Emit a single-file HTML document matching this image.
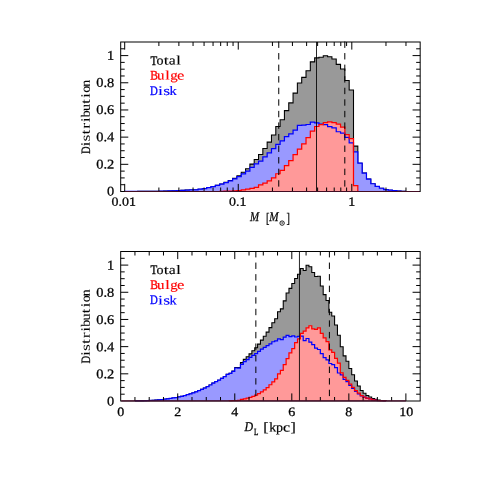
<!DOCTYPE html>
<html>
<head>
<meta charset="utf-8">
<title>Distribution</title>
<style>
html,body{margin:0;padding:0;background:#fff;}
body{width:491px;height:491px;overflow:hidden;}
svg{display:block;}
text{font-family:"Liberation Serif",serif;stroke-width:0.28px;}
</style>
</head>
<body>
<svg width="491" height="491" viewBox="0 0 491 491">
<defs>
<clipPath id="ct"><rect x="120.69" y="42" width="299.48" height="150.1"/></clipPath>
<clipPath id="cb"><rect x="120.69" y="251.5" width="299.48" height="150.1"/></clipPath>
</defs>
<rect width="491" height="491" fill="#fff"/>
<g clip-path="url(#ct)">
<path d="M120.69 191.5V191.5H124.7V191.45H129.02V191.43H133.33V191.42H137.65V191.39H141.97V191.36H146.28V191.34H150.6V191.31H154.92V191.27H159.23V191.23H163.55V191.09H167.87V190.96H172.19V190.82H176.5V190.62H180.82V190.41H185.14V190.14H189.45V189.94H193.77V189.8H198.09V189.19H202.41V188.51H206.72V187.56H211.04V186.61H215.36V185.38H219.67V184.03H223.99V182.26H228.31V180.55H232.62V178.39H236.94V175.74H241.26V172.26H245.57V168.79H249.89V164.1H254.21V159.56H258.53V154.54H262.84V148.49H267.16V142.11H271.48V135.03H275.79V126.58H280.11V119.74H284.43V110.64H288.75V102.89H293.06V93.11H297.38V82.92H301.7V77.34H306.01V70.68H310.33V61.85H314.65V57.91H318.96V57.23H323.28V55.78H327.6V56.82H331.92V59.04H336.23V64.34H340.55V68.92H344.87V80.51H349.18V89.98H353.5V146.11H357.82V163.23H362.13V173.15H366.45V179.13H370.77V183.75H375.08V186.47H379.4V188.24H383.72V189.54H388.04V190.2H392.35V190.68H396.67V191.09H400.99V191.3H405.3V191.5H409.62V191.5H413.94V191.5H418.25V191.5Z" fill="#999999"/>
<path d="M124.7 191.5V191.45H129.02V191.43H133.33V191.42H137.65V191.39H141.97V191.36H146.28V191.34H150.6V191.31H154.92V191.27H159.23V191.23H163.55V191.09H167.87V190.96H172.19V190.82H176.5V190.62H180.82V190.41H185.14V190.14H189.45V189.94H193.77V189.8H198.09V189.19H202.41V188.51H206.72V187.56H211.04V186.61H215.36V185.38H219.67V184.03H223.99V182.26H228.31V180.55H232.62V178.39H236.94V175.74H241.26V172.26H245.57V168.79H249.89V164.1H254.21V159.56H258.53V154.54H262.84V148.49H267.16V142.11H271.48V135.03H275.79V126.58H280.11V119.74H284.43V110.64H288.75V102.89H293.06V93.11H297.38V82.92H301.7V77.34H306.01V70.68H310.33V61.85H314.65V57.91H318.96V57.23H323.28V55.78H327.6V56.82H331.92V59.04H336.23V64.34H340.55V68.92H344.87V80.51H349.18V89.98H353.5V146.11H357.82V163.23H362.13V173.15H366.45V179.13H370.77V183.75H375.08V186.47H379.4V188.24H383.72V189.54H388.04V190.2H392.35V190.68H396.67V191.09H400.99V191.3H405.3V191.5" fill="none" stroke="#000" stroke-width="1.08"/>
<path d="M120.69 191.5V191.5H124.7V191.45H129.02V191.43H133.33V191.42H137.65V191.39H141.97V191.36H146.28V191.34H150.6V191.31H154.92V191.27H159.23V191.23H163.55V191.09H167.87V190.96H172.19V190.82H176.5V190.62H180.82V190.41H185.14V190.14H189.45V189.94H193.77V189.8H198.09V189.19H202.41V188.51H206.72V187.56H211.04V186.61H215.36V185.38H219.67V184.16H223.99V182.53H228.31V180.95H232.62V178.93H236.94V176.69H241.26V173.83H245.57V171.18H249.89V167.31H254.21V163.78H258.53V161.19H262.84V156.98H267.16V152.85H271.48V148.62H275.79V144.34H280.11V140.81H284.43V136.6H288.75V133.88H293.06V130.07H297.38V125.32H301.7V125.04H306.01V124.5H310.33V122.19H314.65V122.92H318.96V124.09H323.28V124.64H327.6V126.54H331.92V127.9H336.23V131.74H340.55V133.2H344.87V137.41H349.18V142.85H353.5V151.95H357.82V163.23H362.13V173.15H366.45V179.13H370.77V183.75H375.08V186.47H379.4V188.24H383.72V189.54H388.04V190.2H392.35V190.68H396.67V191.09H400.99V191.3H405.3V191.5H409.62V191.5H413.94V191.5H418.25V191.5Z" fill="#9999ff"/>
<path d="M120.69 191.5V191.5H124.7V191.5H129.02V191.5H133.33V191.5H137.65V191.5H141.97V191.5H146.28V191.5H150.6V191.5H154.92V191.5H159.23V191.5H163.55V191.5H167.87V191.5H172.19V191.5H176.5V191.5H180.82V191.5H185.14V191.5H189.45V191.5H193.77V191.5H198.09V191.5H202.41V191.5H206.72V191.5H211.04V191.5H215.36V191.5H219.67V191.36H223.99V191.23H228.31V191.09H232.62V190.96H236.94V190.55H241.26V189.92H245.57V189.11H249.89V188.29H254.21V187.29H258.53V184.84H262.84V183.01H267.16V180.76H271.48V177.91H275.79V173.74H280.11V170.44H284.43V165.54H288.75V160.51H293.06V154.54H297.38V149.1H301.7V143.8H306.01V137.68H310.33V131.16H314.65V126.49H318.96V124.64H323.28V122.64H327.6V121.78H331.92V122.64H336.23V124.09H340.55V127.22H344.87V134.6H349.18V138.63H353.5V185.66H357.82V191.5H362.13V191.5H366.45V191.5H370.77V191.5H375.08V191.5H379.4V191.5H383.72V191.5H388.04V191.5H392.35V191.5H396.67V191.5H400.99V191.5H405.3V191.5H409.62V191.5H413.94V191.5H418.25V191.5Z" fill="#ff9999"/>
<path d="M124.7 191.5V191.45H129.02V191.43H133.33V191.42H137.65V191.39H141.97V191.36H146.28V191.34H150.6V191.31H154.92V191.27H159.23V191.23H163.55V191.09H167.87V190.96H172.19V190.82H176.5V190.62H180.82V190.41H185.14V190.14H189.45V189.94H193.77V189.8H198.09V189.19H202.41V188.51H206.72V187.56H211.04V186.61H215.36V185.38H219.67V184.16H223.99V182.53H228.31V180.95H232.62V178.93H236.94V176.69H241.26V173.83H245.57V171.18H249.89V167.31H254.21V163.78H258.53V161.19H262.84V156.98H267.16V152.85H271.48V148.62H275.79V144.34H280.11V140.81H284.43V136.6H288.75V133.88H293.06V130.07H297.38V125.32H301.7V125.04H306.01V124.5H310.33V122.19H314.65V122.92H318.96V124.09H323.28V124.64H327.6V126.54H331.92V127.9H336.23V131.74H340.55V133.2H344.87V137.41H349.18V142.85H353.5V151.95H357.82V163.23H362.13V173.15H366.45V179.13H370.77V183.75H375.08V186.47H379.4V188.24H383.72V189.54H388.04V190.2H392.35V190.68H396.67V191.09H400.99V191.3H405.3V191.5" fill="none" stroke="#0000ff" stroke-width="1.23"/>
<path d="M219.67 191.5V191.36H223.99V191.23H228.31V191.09H232.62V190.96H236.94V190.55H241.26V189.92H245.57V189.11H249.89V188.29H254.21V187.29H258.53V184.84H262.84V183.01H267.16V180.76H271.48V177.91H275.79V173.74H280.11V170.44H284.43V165.54H288.75V160.51H293.06V154.54H297.38V149.1H301.7V143.8H306.01V137.68H310.33V131.16H314.65V126.49H318.96V124.64H323.28V122.64H327.6V121.78H331.92V122.64H336.23V124.09H340.55V127.22H344.87V134.6H349.18V138.63H353.5V185.66H357.82V191.5" fill="none" stroke="#ff0000" stroke-width="1.23"/>
</g>
<path d="M278.75 41.5V47.9M278.75 53.06V59.46M278.75 64.62V71.02M278.75 76.18V82.58M278.75 87.74V94.14M278.75 99.3V105.7M278.75 110.86V117.26M278.75 122.42V128.82M278.75 133.98V140.38M278.75 145.54V151.94M278.75 157.1V163.5M278.75 168.66V175.06M278.75 180.22V186.62" stroke="#000" stroke-width="1" fill="none"/>
<path d="M344.8 41.5V47.9M344.8 53.06V59.46M344.8 64.62V71.02M344.8 76.18V82.58M344.8 87.74V94.14M344.8 99.3V105.7M344.8 110.86V117.26M344.8 122.42V128.82M344.8 133.98V140.38M344.8 145.54V151.94M344.8 157.1V163.5M344.8 168.66V175.06M344.8 180.22V186.62" stroke="#000" stroke-width="1" fill="none"/>
<path d="M316.5 42V191.5" stroke="#000" stroke-width="0.85" fill="none"/>
<path d="M120.69 184.71h4M420.17 184.71h-4M120.69 177.91h4M420.17 177.91h-4M120.69 171.12h4M420.17 171.12h-4M120.69 164.32h7.6M420.17 164.32h-7.6M120.69 157.53h4M420.17 157.53h-4M120.69 150.73h4M420.17 150.73h-4M120.69 143.94h4M420.17 143.94h-4M120.69 137.14h7.6M420.17 137.14h-7.6M120.69 130.34h4M420.17 130.34h-4M120.69 123.55h4M420.17 123.55h-4M120.69 116.75h4M420.17 116.75h-4M120.69 109.96h7.6M420.17 109.96h-7.6M120.69 103.16h4M420.17 103.16h-4M120.69 96.37h4M420.17 96.37h-4M120.69 89.57h4M420.17 89.57h-4M120.69 82.78h7.6M420.17 82.78h-7.6M120.69 75.98h4M420.17 75.98h-4M120.69 69.19h4M420.17 69.19h-4M120.69 62.39h4M420.17 62.39h-4M120.69 55.6h7.6M420.17 55.6h-7.6M120.69 48.8h4M420.17 48.8h-4M124.7 191.5v-7.6M124.7 42v7.6M238.25 191.5v-7.6M238.25 42v7.6M351.8 191.5v-7.6M351.8 42v7.6M158.88 191.5v-4M158.88 42v4M178.88 191.5v-4M178.88 42v4M193.06 191.5v-4M193.06 42v4M204.07 191.5v-4M204.07 42v4M213.06 191.5v-4M213.06 42v4M220.66 191.5v-4M220.66 42v4M227.25 191.5v-4M227.25 42v4M233.05 191.5v-4M233.05 42v4M272.43 191.5v-4M272.43 42v4M292.43 191.5v-4M292.43 42v4M306.61 191.5v-4M306.61 42v4M317.62 191.5v-4M317.62 42v4M326.61 191.5v-4M326.61 42v4M334.21 191.5v-4M334.21 42v4M340.8 191.5v-4M340.8 42v4M346.6 191.5v-4M346.6 42v4M385.98 191.5v-4M385.98 42v4M405.98 191.5v-4M405.98 42v4" stroke="#000" stroke-width="1.0" fill="none"/>
<rect x="120.69" y="42" width="299.48" height="149.5" fill="none" stroke="#000" stroke-width="1.0"/>
<path d="M124.7 191.5H419.67" stroke="#420c22" stroke-width="1"/>
<g clip-path="url(#cb)">
<path d="M120.69 401V401H123.54V401H126.39V401H129.25V401H132.1V401H134.95V400.98H137.8V400.93H140.65V400.89H143.51V400.8H146.36V400.66H149.21V400.48H152.06V400.27H154.91V400.05H157.77V399.78H160.62V399.51H163.47V399.18H166.32V398.8H169.17V398.42H172.03V397.98H174.88V397.55H177.73V396.98H180.58V396.27H183.43V395.56H186.29V394.69H189.14V393.82H191.99V392.87H194.84V391.84H197.69V390.67H200.55V389.35H203.4V388.04H206.25V386.57H209.1V384.99H211.95V383.16H214.81V381.7H217.66V380.21H220.51V378.26H223.36V376.54H226.21V374.36H229.07V373.28H231.92V371.03H234.77V367.6H237.62V367.57H240.47V362.61H243.33V359.41H246.18V356.72H249.03V353.84H251.88V350.78H254.73V347.77H257.59V344.1H260.44V340.12H263.29V336.31H266.14V332.15H268.99V327.64H271.85V322.72H274.7V318.74H277.55V311.71H280.4V308.86H283.25V300.84H286.11V293.03H288.96V288.34H291.81V283.45H294.66V278.55H297.51V274.21H300.37V268.5H303.22V270.54H306.07V265.28H308.92V266.77H311.77V272.44H314.63V276.45H317.48V276.28H320.33V285.96H323.18V294.62H326.03V300.47H328.89V312.28H331.74V315.99H334.59V324.98H337.44V335.22H340.29V346.68H343.15V355.88H346V361.18H348.85V368.52H351.7V374.77H354.55V381.08H357.41V385.97H360.26V390.54H363.11V393.31H365.96V395.43H368.81V396.92H371.67V398.55H374.52V399.41H377.37V400.05H380.22V400.51H383.07V400.76H385.93V401H388.78V401H391.63V401H394.48V401H397.33V401H400.19V401H403.04V401H405.89V401Z" fill="#999999"/>
<path d="M134.95 401V400.98H137.8V400.93H140.65V400.89H143.51V400.8H146.36V400.66H149.21V400.48H152.06V400.27H154.91V400.05H157.77V399.78H160.62V399.51H163.47V399.18H166.32V398.8H169.17V398.42H172.03V397.98H174.88V397.55H177.73V396.98H180.58V396.27H183.43V395.56H186.29V394.69H189.14V393.82H191.99V392.87H194.84V391.84H197.69V390.67H200.55V389.35H203.4V388.04H206.25V386.57H209.1V384.99H211.95V383.16H214.81V381.7H217.66V380.21H220.51V378.26H223.36V376.54H226.21V374.36H229.07V373.28H231.92V371.03H234.77V367.6H237.62V367.57H240.47V362.61H243.33V359.41H246.18V356.72H249.03V353.84H251.88V350.78H254.73V347.77H257.59V344.1H260.44V340.12H263.29V336.31H266.14V332.15H268.99V327.64H271.85V322.72H274.7V318.74H277.55V311.71H280.4V308.86H283.25V300.84H286.11V293.03H288.96V288.34H291.81V283.45H294.66V278.55H297.51V274.21H300.37V268.5H303.22V270.54H306.07V265.28H308.92V266.77H311.77V272.44H314.63V276.45H317.48V276.28H320.33V285.96H323.18V294.62H326.03V300.47H328.89V312.28H331.74V315.99H334.59V324.98H337.44V335.22H340.29V346.68H343.15V355.88H346V361.18H348.85V368.52H351.7V374.77H354.55V381.08H357.41V385.97H360.26V390.54H363.11V393.31H365.96V395.43H368.81V396.92H371.67V398.55H374.52V399.41H377.37V400.05H380.22V400.51H383.07V400.76H385.93V401" fill="none" stroke="#000" stroke-width="1.08"/>
<path d="M120.69 401V401H123.54V401H126.39V401H129.25V401H132.1V401H134.95V400.98H137.8V400.93H140.65V400.89H143.51V400.8H146.36V400.66H149.21V400.48H152.06V400.27H154.91V400.05H157.77V399.78H160.62V399.51H163.47V399.18H166.32V398.8H169.17V398.42H172.03V397.98H174.88V397.55H177.73V396.98H180.58V396.27H183.43V395.56H186.29V394.69H189.14V393.82H191.99V392.87H194.84V391.84H197.69V390.67H200.55V389.35H203.4V388.04H206.25V386.57H209.1V384.99H211.95V383.16H214.81V381.7H217.66V380.21H220.51V378.26H223.36V376.54H226.21V374.36H229.07V373.41H231.92V371.31H234.77V368H237.62V368.18H240.47V364.31H243.33V361.63H246.18V359.55H249.03V357.38H251.88V355.34H254.73V353.61H257.59V351.4H260.44V349.22H263.29V347.46H266.14V345.55H268.99V343.89H271.85V341.75H274.7V340.76H277.55V338.89H280.4V339.57H283.25V337.13H286.11V335.43H288.96V336.58H291.81V335.77H294.66V336.99H297.51V336.31H300.37V336.18H303.22V340.52H306.07V338.49H308.92V342.02H311.77V344.6H314.63V348.13H317.48V349.49H320.33V353.57H323.18V357.68H326.03V359.96H328.89V363.49H331.74V364.58H334.59V367.65H337.44V373H340.29V374.77H343.15V379.46H346V381.7H348.85V385.37H351.7V388.5H354.55V391.49H357.41V393.93H360.26V395.97H363.11V397.19H365.96V398.28H368.81V398.96H371.67V399.78H374.52V400.18H377.37V400.52H380.22V400.73H383.07V400.86H385.93V401H388.78V401H391.63V401H394.48V401H397.33V401H400.19V401H403.04V401H405.89V401Z" fill="#9999ff"/>
<path d="M120.69 401V401H123.54V401H126.39V401H129.25V401H132.1V401H134.95V401H137.8V401H140.65V401H143.51V401H146.36V401H149.21V401H152.06V401H154.91V401H157.77V401H160.62V401H163.47V401H166.32V401H169.17V401H172.03V401H174.88V401H177.73V401H180.58V401H183.43V401H186.29V401H189.14V401H191.99V401H194.84V401H197.69V401H200.55V401H203.4V401H206.25V401H209.1V401H211.95V401H214.81V401H217.66V401H220.51V401H223.36V401H226.21V401H229.07V400.86H231.92V400.73H234.77V400.59H237.62V400.39H240.47V399.3H243.33V398.78H246.18V398.17H249.03V397.47H251.88V396.45H254.73V395.16H257.59V393.7H260.44V391.89H263.29V389.86H266.14V387.6H268.99V384.75H271.85V381.97H274.7V378.98H277.55V373.82H280.4V370.29H283.25V364.71H286.11V358.6H288.96V352.76H291.81V348.68H294.66V342.56H297.51V338.89H300.37V333.32H303.22V331.01H306.07V327.79H308.92V325.75H311.77V328.84H314.63V329.31H317.48V327.79H320.33V333.39H323.18V337.94H326.03V341.52H328.89V349.79H331.74V352.42H334.59V358.33H337.44V363.22H340.29V372.91H343.15V377.42H346V380.48H348.85V384.15H351.7V387.27H354.55V390.59H357.41V393.04H360.26V395.56H363.11V397.11H365.96V398.15H368.81V398.96H371.67V399.78H374.52V400.23H377.37V400.52H380.22V400.78H383.07V400.89H385.93V401H388.78V401H391.63V401H394.48V401H397.33V401H400.19V401H403.04V401H405.89V401Z" fill="#ff9999"/>
<path d="M134.95 401V400.98H137.8V400.93H140.65V400.89H143.51V400.8H146.36V400.66H149.21V400.48H152.06V400.27H154.91V400.05H157.77V399.78H160.62V399.51H163.47V399.18H166.32V398.8H169.17V398.42H172.03V397.98H174.88V397.55H177.73V396.98H180.58V396.27H183.43V395.56H186.29V394.69H189.14V393.82H191.99V392.87H194.84V391.84H197.69V390.67H200.55V389.35H203.4V388.04H206.25V386.57H209.1V384.99H211.95V383.16H214.81V381.7H217.66V380.21H220.51V378.26H223.36V376.54H226.21V374.36H229.07V373.41H231.92V371.31H234.77V368H237.62V368.18H240.47V364.31H243.33V361.63H246.18V359.55H249.03V357.38H251.88V355.34H254.73V353.61H257.59V351.4H260.44V349.22H263.29V347.46H266.14V345.55H268.99V343.89H271.85V341.75H274.7V340.76H277.55V338.89H280.4V339.57H283.25V337.13H286.11V335.43H288.96V336.58H291.81V335.77H294.66V336.99H297.51V336.31H300.37V336.18H303.22V340.52H306.07V338.49H308.92V342.02H311.77V344.6H314.63V348.13H317.48V349.49H320.33V353.57H323.18V357.68H326.03V359.96H328.89V363.49H331.74V364.58H334.59V367.65H337.44V373H340.29V374.77H343.15V379.46H346V381.7H348.85V385.37H351.7V388.5H354.55V391.49H357.41V393.93H360.26V395.97H363.11V397.19H365.96V398.28H368.81V398.96H371.67V399.78H374.52V400.18H377.37V400.52H380.22V400.73H383.07V400.86H385.93V401" fill="none" stroke="#0000ff" stroke-width="1.23"/>
<path d="M229.07 401V400.86H231.92V400.73H234.77V400.59H237.62V400.39H240.47V399.3H243.33V398.78H246.18V398.17H249.03V397.47H251.88V396.45H254.73V395.16H257.59V393.7H260.44V391.89H263.29V389.86H266.14V387.6H268.99V384.75H271.85V381.97H274.7V378.98H277.55V373.82H280.4V370.29H283.25V364.71H286.11V358.6H288.96V352.76H291.81V348.68H294.66V342.56H297.51V338.89H300.37V333.32H303.22V331.01H306.07V327.79H308.92V325.75H311.77V328.84H314.63V329.31H317.48V327.79H320.33V333.39H323.18V337.94H326.03V341.52H328.89V349.79H331.74V352.42H334.59V358.33H337.44V363.22H340.29V372.91H343.15V377.42H346V380.48H348.85V384.15H351.7V387.27H354.55V390.59H357.41V393.04H360.26V395.56H363.11V397.11H365.96V398.15H368.81V398.96H371.67V399.78H374.52V400.23H377.37V400.52H380.22V400.78H383.07V400.89H385.93V401" fill="none" stroke="#ff0000" stroke-width="1.23"/>
</g>
<path d="M255.85 251V257.4M255.85 262.56V268.96M255.85 274.12V280.52M255.85 285.68V292.08M255.85 297.24V303.64M255.85 308.8V315.2M255.85 320.36V326.76M255.85 331.92V338.32M255.85 343.48V349.88M255.85 355.04V361.44M255.85 366.6V373M255.85 378.16V384.56M255.85 389.72V396.12" stroke="#000" stroke-width="1" fill="none"/>
<path d="M329.4 251V257.4M329.4 262.56V268.96M329.4 274.12V280.52M329.4 285.68V292.08M329.4 297.24V303.64M329.4 308.8V315.2M329.4 320.36V326.76M329.4 331.92V338.32M329.4 343.48V349.88M329.4 355.04V361.44M329.4 366.6V373M329.4 378.16V384.56M329.4 389.72V396.12" stroke="#000" stroke-width="1" fill="none"/>
<path d="M299.45 251.5V401" stroke="#000" stroke-width="0.85" fill="none"/>
<path d="M120.69 394.2h4M420.17 394.2h-4M120.69 387.41h4M420.17 387.41h-4M120.69 380.62h4M420.17 380.62h-4M120.69 373.82h7.6M420.17 373.82h-7.6M120.69 367.02h4M420.17 367.02h-4M120.69 360.23h4M420.17 360.23h-4M120.69 353.44h4M420.17 353.44h-4M120.69 346.64h7.6M420.17 346.64h-7.6M120.69 339.85h4M420.17 339.85h-4M120.69 333.05h4M420.17 333.05h-4M120.69 326.25h4M420.17 326.25h-4M120.69 319.46h7.6M420.17 319.46h-7.6M120.69 312.66h4M420.17 312.66h-4M120.69 305.87h4M420.17 305.87h-4M120.69 299.07h4M420.17 299.07h-4M120.69 292.28h7.6M420.17 292.28h-7.6M120.69 285.49h4M420.17 285.49h-4M120.69 278.69h4M420.17 278.69h-4M120.69 271.89h4M420.17 271.89h-4M120.69 265.1h7.6M420.17 265.1h-7.6M120.69 258.3h4M420.17 258.3h-4M177.73 401v-7.6M177.73 251.5v7.6M234.77 401v-7.6M234.77 251.5v7.6M291.81 401v-7.6M291.81 251.5v7.6M348.85 401v-7.6M348.85 251.5v7.6M405.89 401v-7.6M405.89 251.5v7.6M134.95 401v-4M134.95 251.5v4M149.21 401v-4M149.21 251.5v4M163.47 401v-4M163.47 251.5v4M191.99 401v-4M191.99 251.5v4M206.25 401v-4M206.25 251.5v4M220.51 401v-4M220.51 251.5v4M249.03 401v-4M249.03 251.5v4M263.29 401v-4M263.29 251.5v4M277.55 401v-4M277.55 251.5v4M306.07 401v-4M306.07 251.5v4M320.33 401v-4M320.33 251.5v4M334.59 401v-4M334.59 251.5v4M363.11 401v-4M363.11 251.5v4M377.37 401v-4M377.37 251.5v4M391.63 401v-4M391.63 251.5v4" stroke="#000" stroke-width="1.0" fill="none"/>
<rect x="120.69" y="251.5" width="299.48" height="149.5" fill="none" stroke="#000" stroke-width="1.0"/>
<path d="M121.19 400.85H405.89" stroke="#4d0f2e" stroke-width="1.15"/>
<g opacity="0.99">
<text x="107" y="195.6" transform="rotate(0.03 107 195.6)" font-size="13.3" fill="#000" stroke="#000" text-anchor="start" textLength="7.2" lengthAdjust="spacingAndGlyphs">0</text>
<text x="96.2" y="168.42" transform="rotate(0.03 96.2 168.42)" font-size="13.3" fill="#000" stroke="#000" text-anchor="start" textLength="18" lengthAdjust="spacingAndGlyphs">0.2</text>
<text x="96.2" y="141.24" transform="rotate(0.03 96.2 141.24)" font-size="13.3" fill="#000" stroke="#000" text-anchor="start" textLength="18" lengthAdjust="spacingAndGlyphs">0.4</text>
<text x="96.2" y="114.06" transform="rotate(0.03 96.2 114.06)" font-size="13.3" fill="#000" stroke="#000" text-anchor="start" textLength="18" lengthAdjust="spacingAndGlyphs">0.6</text>
<text x="96.2" y="86.88" transform="rotate(0.03 96.2 86.88)" font-size="13.3" fill="#000" stroke="#000" text-anchor="start" textLength="18" lengthAdjust="spacingAndGlyphs">0.8</text>
<text x="107" y="59.7" transform="rotate(0.03 107 59.7)" font-size="13.3" fill="#000" stroke="#000" text-anchor="start" textLength="7.2" lengthAdjust="spacingAndGlyphs">1</text>
<text transform="translate(153.9 64.6) rotate(0.03) scale(0.85 1)" font-size="13.0" fill="#000" stroke="#000" text-anchor="middle" style="stroke-width:0.36px">T</text>
<text transform="translate(160.05 64.6) rotate(0.03) scale(1.08 1)" font-size="13.0" fill="#000" stroke="#000" text-anchor="middle" style="stroke-width:0.2px">o</text>
<text transform="translate(166.2 64.6) rotate(0.03) scale(1.38 1)" font-size="13.0" fill="#000" stroke="#000" text-anchor="middle" style="stroke-width:0.1px">t</text>
<text transform="translate(172.35 64.6) rotate(0.03) scale(1.21 1)" font-size="13.0" fill="#000" stroke="#000" text-anchor="middle" style="stroke-width:0.1px">a</text>
<text transform="translate(178.5 64.6) rotate(0.03) scale(1.38 1)" font-size="13.0" fill="#000" stroke="#000" text-anchor="middle" style="stroke-width:0.1px">l</text>
<text transform="translate(154.1 79.6) rotate(0.03) scale(0.89 1)" font-size="13.0" fill="#ff0000" stroke="#ff0000" text-anchor="middle" style="stroke-width:0.36px">B</text>
<text transform="translate(160.75 79.6) rotate(0.03) scale(1.14 1)" font-size="13.0" fill="#ff0000" stroke="#ff0000" text-anchor="middle" style="stroke-width:0.2px">u</text>
<text transform="translate(167.4 79.6) rotate(0.03) scale(1.38 1)" font-size="13.0" fill="#ff0000" stroke="#ff0000" text-anchor="middle" style="stroke-width:0.1px">l</text>
<text transform="translate(174.05 79.6) rotate(0.03) scale(1.14 1)" font-size="13.0" fill="#ff0000" stroke="#ff0000" text-anchor="middle" style="stroke-width:0.2px">g</text>
<text transform="translate(180.7 79.6) rotate(0.03) scale(1.28 1)" font-size="13.0" fill="#ff0000" stroke="#ff0000" text-anchor="middle" style="stroke-width:0.1px">e</text>
<text transform="translate(154 94.9) rotate(0.03) scale(0.83 1)" font-size="13.0" fill="#0000ff" stroke="#0000ff" text-anchor="middle" style="stroke-width:0.36px">D</text>
<text transform="translate(160.4 94.9) rotate(0.03) scale(1.38 1)" font-size="13.0" fill="#0000ff" stroke="#0000ff" text-anchor="middle" style="stroke-width:0.1px">i</text>
<text transform="translate(166.8 94.9) rotate(0.03) scale(1.38 1)" font-size="13.0" fill="#0000ff" stroke="#0000ff" text-anchor="middle" style="stroke-width:0.1px">s</text>
<text transform="translate(173.2 94.9) rotate(0.03) scale(1.11 1)" font-size="13.0" fill="#0000ff" stroke="#0000ff" text-anchor="middle" style="stroke-width:0.2px">k</text>
<text transform="translate(89.7 150.19) rotate(-89.97) scale(0.83 1)" font-size="12.8" fill="#000" stroke="#000" text-anchor="middle" style="stroke-width:0.28px">D</text>
<text transform="translate(89.7 144.11) rotate(-89.97) scale(1.38 1)" font-size="12.8" fill="#000" stroke="#000" text-anchor="middle" style="stroke-width:0.02px">i</text>
<text transform="translate(89.7 138.03) rotate(-89.97) scale(1.38 1)" font-size="12.8" fill="#000" stroke="#000" text-anchor="middle" style="stroke-width:0.02px">s</text>
<text transform="translate(89.7 131.95) rotate(-89.97) scale(1.38 1)" font-size="12.8" fill="#000" stroke="#000" text-anchor="middle" style="stroke-width:0.02px">t</text>
<text transform="translate(89.7 125.87) rotate(-89.97) scale(1.38 1)" font-size="12.8" fill="#000" stroke="#000" text-anchor="middle" style="stroke-width:0.02px">r</text>
<text transform="translate(89.7 119.79) rotate(-89.97) scale(1.38 1)" font-size="12.8" fill="#000" stroke="#000" text-anchor="middle" style="stroke-width:0.02px">i</text>
<text transform="translate(89.7 113.71) rotate(-89.97) scale(1.08 1)" font-size="12.8" fill="#000" stroke="#000" text-anchor="middle" style="stroke-width:0.12px">b</text>
<text transform="translate(89.7 107.63) rotate(-89.97) scale(1.08 1)" font-size="12.8" fill="#000" stroke="#000" text-anchor="middle" style="stroke-width:0.12px">u</text>
<text transform="translate(89.7 101.55) rotate(-89.97) scale(1.38 1)" font-size="12.8" fill="#000" stroke="#000" text-anchor="middle" style="stroke-width:0.02px">t</text>
<text transform="translate(89.7 95.47) rotate(-89.97) scale(1.38 1)" font-size="12.8" fill="#000" stroke="#000" text-anchor="middle" style="stroke-width:0.02px">i</text>
<text transform="translate(89.7 89.39) rotate(-89.97) scale(1.08 1)" font-size="12.8" fill="#000" stroke="#000" text-anchor="middle" style="stroke-width:0.12px">o</text>
<text transform="translate(89.7 83.31) rotate(-89.97) scale(1.08 1)" font-size="12.8" fill="#000" stroke="#000" text-anchor="middle" style="stroke-width:0.12px">n</text>
<text x="107" y="405.5" transform="rotate(0.03 107 405.5)" font-size="13.3" fill="#000" stroke="#000" text-anchor="start" textLength="7.2" lengthAdjust="spacingAndGlyphs">0</text>
<text x="96.2" y="378.32" transform="rotate(0.03 96.2 378.32)" font-size="13.3" fill="#000" stroke="#000" text-anchor="start" textLength="18" lengthAdjust="spacingAndGlyphs">0.2</text>
<text x="96.2" y="351.14" transform="rotate(0.03 96.2 351.14)" font-size="13.3" fill="#000" stroke="#000" text-anchor="start" textLength="18" lengthAdjust="spacingAndGlyphs">0.4</text>
<text x="96.2" y="323.96" transform="rotate(0.03 96.2 323.96)" font-size="13.3" fill="#000" stroke="#000" text-anchor="start" textLength="18" lengthAdjust="spacingAndGlyphs">0.6</text>
<text x="96.2" y="296.78" transform="rotate(0.03 96.2 296.78)" font-size="13.3" fill="#000" stroke="#000" text-anchor="start" textLength="18" lengthAdjust="spacingAndGlyphs">0.8</text>
<text x="107" y="269.6" transform="rotate(0.03 107 269.6)" font-size="13.3" fill="#000" stroke="#000" text-anchor="start" textLength="7.2" lengthAdjust="spacingAndGlyphs">1</text>
<text transform="translate(153.9 274.1) rotate(0.03) scale(0.85 1)" font-size="13.0" fill="#000" stroke="#000" text-anchor="middle" style="stroke-width:0.36px">T</text>
<text transform="translate(160.05 274.1) rotate(0.03) scale(1.08 1)" font-size="13.0" fill="#000" stroke="#000" text-anchor="middle" style="stroke-width:0.2px">o</text>
<text transform="translate(166.2 274.1) rotate(0.03) scale(1.38 1)" font-size="13.0" fill="#000" stroke="#000" text-anchor="middle" style="stroke-width:0.1px">t</text>
<text transform="translate(172.35 274.1) rotate(0.03) scale(1.21 1)" font-size="13.0" fill="#000" stroke="#000" text-anchor="middle" style="stroke-width:0.1px">a</text>
<text transform="translate(178.5 274.1) rotate(0.03) scale(1.38 1)" font-size="13.0" fill="#000" stroke="#000" text-anchor="middle" style="stroke-width:0.1px">l</text>
<text transform="translate(154.1 289.1) rotate(0.03) scale(0.89 1)" font-size="13.0" fill="#ff0000" stroke="#ff0000" text-anchor="middle" style="stroke-width:0.36px">B</text>
<text transform="translate(160.75 289.1) rotate(0.03) scale(1.14 1)" font-size="13.0" fill="#ff0000" stroke="#ff0000" text-anchor="middle" style="stroke-width:0.2px">u</text>
<text transform="translate(167.4 289.1) rotate(0.03) scale(1.38 1)" font-size="13.0" fill="#ff0000" stroke="#ff0000" text-anchor="middle" style="stroke-width:0.1px">l</text>
<text transform="translate(174.05 289.1) rotate(0.03) scale(1.14 1)" font-size="13.0" fill="#ff0000" stroke="#ff0000" text-anchor="middle" style="stroke-width:0.2px">g</text>
<text transform="translate(180.7 289.1) rotate(0.03) scale(1.28 1)" font-size="13.0" fill="#ff0000" stroke="#ff0000" text-anchor="middle" style="stroke-width:0.1px">e</text>
<text transform="translate(154 304.4) rotate(0.03) scale(0.83 1)" font-size="13.0" fill="#0000ff" stroke="#0000ff" text-anchor="middle" style="stroke-width:0.36px">D</text>
<text transform="translate(160.4 304.4) rotate(0.03) scale(1.38 1)" font-size="13.0" fill="#0000ff" stroke="#0000ff" text-anchor="middle" style="stroke-width:0.1px">i</text>
<text transform="translate(166.8 304.4) rotate(0.03) scale(1.38 1)" font-size="13.0" fill="#0000ff" stroke="#0000ff" text-anchor="middle" style="stroke-width:0.1px">s</text>
<text transform="translate(173.2 304.4) rotate(0.03) scale(1.11 1)" font-size="13.0" fill="#0000ff" stroke="#0000ff" text-anchor="middle" style="stroke-width:0.2px">k</text>
<text transform="translate(89.7 359.69) rotate(-89.97) scale(0.83 1)" font-size="12.8" fill="#000" stroke="#000" text-anchor="middle" style="stroke-width:0.28px">D</text>
<text transform="translate(89.7 353.61) rotate(-89.97) scale(1.38 1)" font-size="12.8" fill="#000" stroke="#000" text-anchor="middle" style="stroke-width:0.02px">i</text>
<text transform="translate(89.7 347.53) rotate(-89.97) scale(1.38 1)" font-size="12.8" fill="#000" stroke="#000" text-anchor="middle" style="stroke-width:0.02px">s</text>
<text transform="translate(89.7 341.45) rotate(-89.97) scale(1.38 1)" font-size="12.8" fill="#000" stroke="#000" text-anchor="middle" style="stroke-width:0.02px">t</text>
<text transform="translate(89.7 335.37) rotate(-89.97) scale(1.38 1)" font-size="12.8" fill="#000" stroke="#000" text-anchor="middle" style="stroke-width:0.02px">r</text>
<text transform="translate(89.7 329.29) rotate(-89.97) scale(1.38 1)" font-size="12.8" fill="#000" stroke="#000" text-anchor="middle" style="stroke-width:0.02px">i</text>
<text transform="translate(89.7 323.21) rotate(-89.97) scale(1.08 1)" font-size="12.8" fill="#000" stroke="#000" text-anchor="middle" style="stroke-width:0.12px">b</text>
<text transform="translate(89.7 317.13) rotate(-89.97) scale(1.08 1)" font-size="12.8" fill="#000" stroke="#000" text-anchor="middle" style="stroke-width:0.12px">u</text>
<text transform="translate(89.7 311.05) rotate(-89.97) scale(1.38 1)" font-size="12.8" fill="#000" stroke="#000" text-anchor="middle" style="stroke-width:0.02px">t</text>
<text transform="translate(89.7 304.97) rotate(-89.97) scale(1.38 1)" font-size="12.8" fill="#000" stroke="#000" text-anchor="middle" style="stroke-width:0.02px">i</text>
<text transform="translate(89.7 298.89) rotate(-89.97) scale(1.08 1)" font-size="12.8" fill="#000" stroke="#000" text-anchor="middle" style="stroke-width:0.12px">o</text>
<text transform="translate(89.7 292.81) rotate(-89.97) scale(1.08 1)" font-size="12.8" fill="#000" stroke="#000" text-anchor="middle" style="stroke-width:0.12px">n</text>
<text x="111.5" y="205.8" transform="rotate(0.03 111.5 205.8)" font-size="12.6" fill="#000" stroke="#000" text-anchor="start" textLength="24.4" lengthAdjust="spacingAndGlyphs">0.01</text>
<text x="229" y="205.8" transform="rotate(0.03 229 205.8)" font-size="12.6" fill="#000" stroke="#000" text-anchor="start" textLength="17.4" lengthAdjust="spacingAndGlyphs">0.1</text>
<text x="348.2" y="205.8" transform="rotate(0.03 348.2 205.8)" font-size="12.6" fill="#000" stroke="#000" text-anchor="start" textLength="7" lengthAdjust="spacingAndGlyphs">1</text>
<text x="249.9" y="221.4" transform="rotate(0.03 249.9 221.4)" font-size="13.3" fill="#000" stroke="#000" text-anchor="start" textLength="9.1" lengthAdjust="spacingAndGlyphs" font-style="italic">M</text>
<text x="265.9" y="222.6" transform="rotate(0.03 265.9 222.6)" font-size="14.5" fill="#000" stroke="#000" text-anchor="start" textLength="3.4" lengthAdjust="spacingAndGlyphs">[</text>
<text x="269.2" y="221.4" transform="rotate(0.03 269.2 221.4)" font-size="13.3" fill="#000" stroke="#000" text-anchor="start" textLength="9.3" lengthAdjust="spacingAndGlyphs" font-style="italic">M</text>
<circle cx="282.1" cy="223.1" r="2.2" fill="none" stroke="#000" stroke-width="0.9"/>
<circle cx="282.1" cy="223.1" r="0.75" fill="#000"/>
<text x="286.6" y="222.6" transform="rotate(0.03 286.6 222.6)" font-size="14.5" fill="#000" stroke="#000" text-anchor="start" textLength="3.4" lengthAdjust="spacingAndGlyphs">]</text>
<text x="117.19" y="416" transform="rotate(0.03 117.19 416)" font-size="12.8" fill="#000" stroke="#000" text-anchor="start" textLength="7" lengthAdjust="spacingAndGlyphs">0</text>
<text x="174.23" y="416" transform="rotate(0.03 174.23 416)" font-size="12.8" fill="#000" stroke="#000" text-anchor="start" textLength="7" lengthAdjust="spacingAndGlyphs">2</text>
<text x="231.27" y="416" transform="rotate(0.03 231.27 416)" font-size="12.8" fill="#000" stroke="#000" text-anchor="start" textLength="7" lengthAdjust="spacingAndGlyphs">4</text>
<text x="288.31" y="416" transform="rotate(0.03 288.31 416)" font-size="12.8" fill="#000" stroke="#000" text-anchor="start" textLength="7" lengthAdjust="spacingAndGlyphs">6</text>
<text x="345.35" y="416" transform="rotate(0.03 345.35 416)" font-size="12.8" fill="#000" stroke="#000" text-anchor="start" textLength="7" lengthAdjust="spacingAndGlyphs">8</text>
<text x="399.29" y="416" transform="rotate(0.03 399.29 416)" font-size="12.8" fill="#000" stroke="#000" text-anchor="start" textLength="14" lengthAdjust="spacingAndGlyphs">10</text>
<text x="244.6" y="431.4" transform="rotate(0.03 244.6 431.4)" font-size="13.3" fill="#000" stroke="#000" text-anchor="start" textLength="8.6" lengthAdjust="spacingAndGlyphs" font-style="italic">D</text>
<text x="254" y="434.7" transform="rotate(0.03 254 434.7)" font-size="9.4" fill="#000" stroke="#000" text-anchor="start" textLength="4.4" lengthAdjust="spacingAndGlyphs" style="stroke-width:0.3px">L</text>
<text transform="translate(266 431.5) rotate(0.03) scale(1.2 1)" font-size="13.3" fill="#000" stroke="#000" text-anchor="middle" style="stroke-width:0.2px">[</text>
<text transform="translate(272.8 431.5) rotate(0.03) scale(1.05 1)" font-size="13.3" fill="#000" stroke="#000" text-anchor="middle" style="stroke-width:0.2px">k</text>
<text transform="translate(279.6 431.5) rotate(0.03) scale(1.05 1)" font-size="13.3" fill="#000" stroke="#000" text-anchor="middle" style="stroke-width:0.2px">p</text>
<text transform="translate(286.4 431.5) rotate(0.03) scale(1.19 1)" font-size="13.3" fill="#000" stroke="#000" text-anchor="middle" style="stroke-width:0.2px">c</text>
<text transform="translate(293.2 431.5) rotate(0.03) scale(1.2 1)" font-size="13.3" fill="#000" stroke="#000" text-anchor="middle" style="stroke-width:0.2px">]</text>
</g>
</svg>
</body>
</html>
